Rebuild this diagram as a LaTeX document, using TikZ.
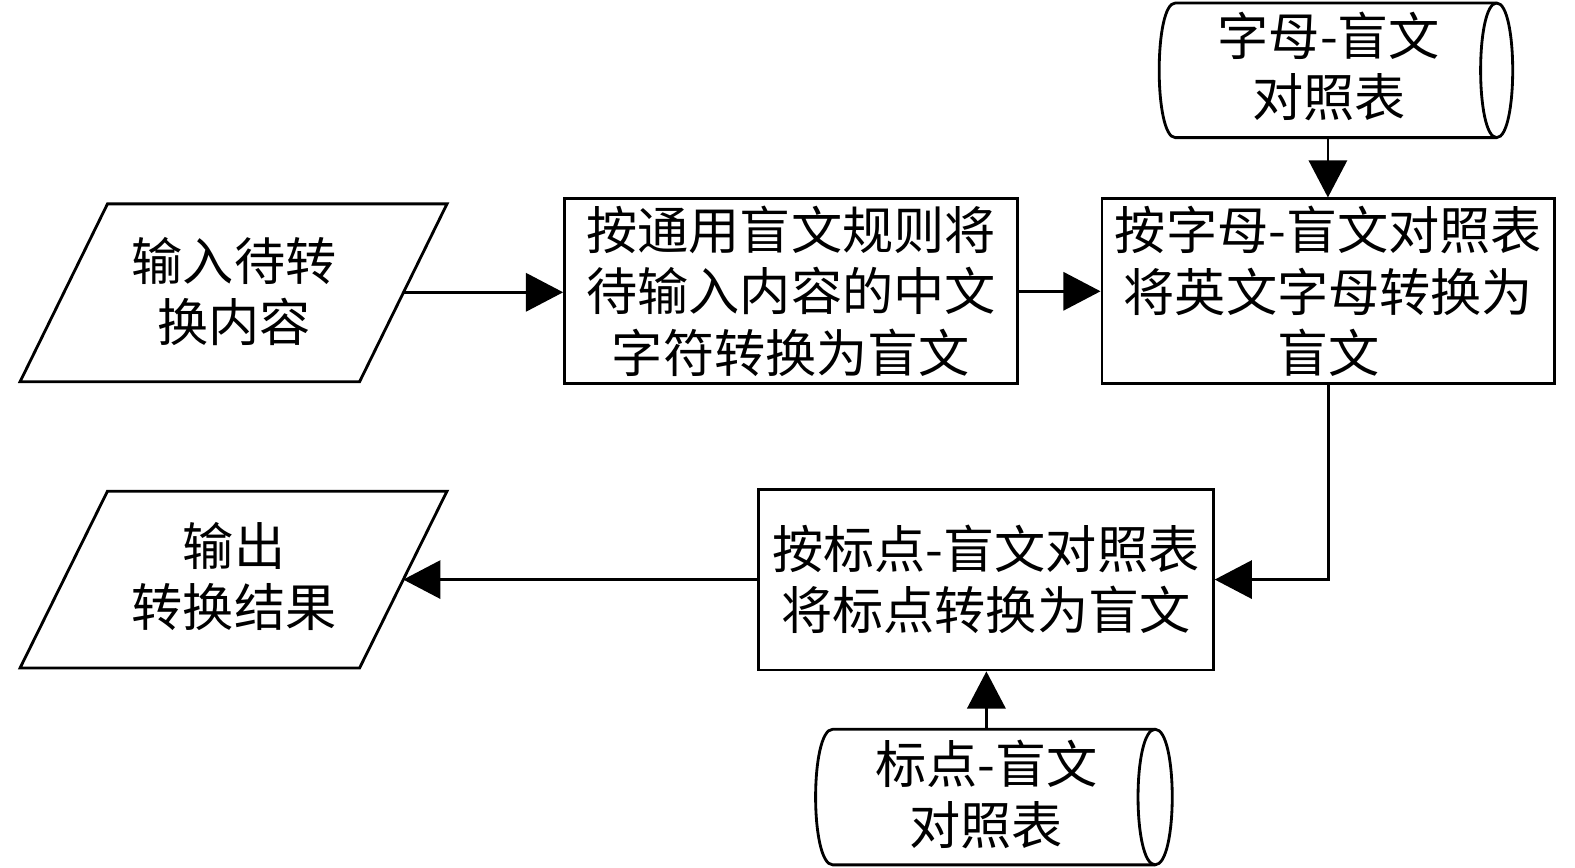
\documentclass[tikz,border=0pt]{standalone}
\usepackage{fontspec}
\setmainfont{Noto Sans CJK SC}
\usetikzlibrary{arrows.meta}
\begin{document}
\begin{tikzpicture}[x=0.02cm,y=-0.02cm,
  lw/.style={line width=1.6pt},
  txt/.style={align=center,inner sep=0pt,font=\fontsize{29}{34.8}\selectfont},
  procbox/.style={draw,lw,align=center,inner sep=0pt,font=\fontsize{29}{34.8}\selectfont},
  arr/.style={lw,-{Triangle[length=0.74cm,width=0.76cm]}}]
\useasboundingbox (0,0) rectangle (1568,864);
% input parallelogram
\draw[lw] (107,203) -- (445,203) -- (358,380) -- (20,380) -- cycle;
\node[txt] (in) at (233,290) {输入待转\\换内容};
\coordinate (ine) at (401.5,291);
% output parallelogram
\draw[lw] (107,489) -- (445,489) -- (358,665) -- (20,665) -- cycle;
\node[txt] (out) at (233,574) {输出\\转换结果};
\coordinate (oute) at (401.5,577);
% process boxes
\node[procbox,minimum width=9.02cm,minimum height=3.68cm] (b2) at (787.5,290) {按通用盲文规则将\\待输入内容的中文\\字符转换为盲文};
\node[procbox,minimum width=9.02cm,minimum height=3.68cm] (b3) at (1322.5,290) {按字母-盲文对照表\\将英文字母转换为\\盲文};
\node[procbox,minimum width=9.06cm,minimum height=3.6cm] (b4) at (981.5,577) {按标点-盲文对照表\\将标点转换为盲文};
% top cylinder
\draw[lw] (1170,3) -- (1490,3) .. controls (1511.3,3) and (1511.3,137) .. (1490,137) -- (1170,137) .. controls (1148.7,137) and (1148.7,3) .. (1170,3);
\draw[lw] (1490,3) .. controls (1468.7,3) and (1468.7,137) .. (1490,137);
\node[txt] (c1) at (1323,66) {字母-盲文\\对照表};
\coordinate (c1s) at (1322,137);
% bottom cylinder
\draw[lw] (829,726) -- (1150,726) .. controls (1172.7,726) and (1172.7,861) .. (1150,861) -- (829,861) .. controls (806.3,861) and (806.3,726) .. (829,726);
\draw[lw] (1150,726) .. controls (1127.3,726) and (1127.3,861) .. (1150,861);
\node[txt] (c2) at (982,791) {标点-盲文\\对照表};
\coordinate (c2n) at (982,726);
% connectors
\draw[arr] (ine) -- (b2.west |- ine);
\draw[arr] (b2.east) -- (b3.west);
\draw[arr] (c1s) -- (b3.north -| c1s);
\draw[arr] (b3.south) |- (b4.east);
\draw[arr] (b4.west) -- (oute);
\draw[arr] (c2n) -- (b4.south -| c2n);
\end{tikzpicture}
\end{document}
